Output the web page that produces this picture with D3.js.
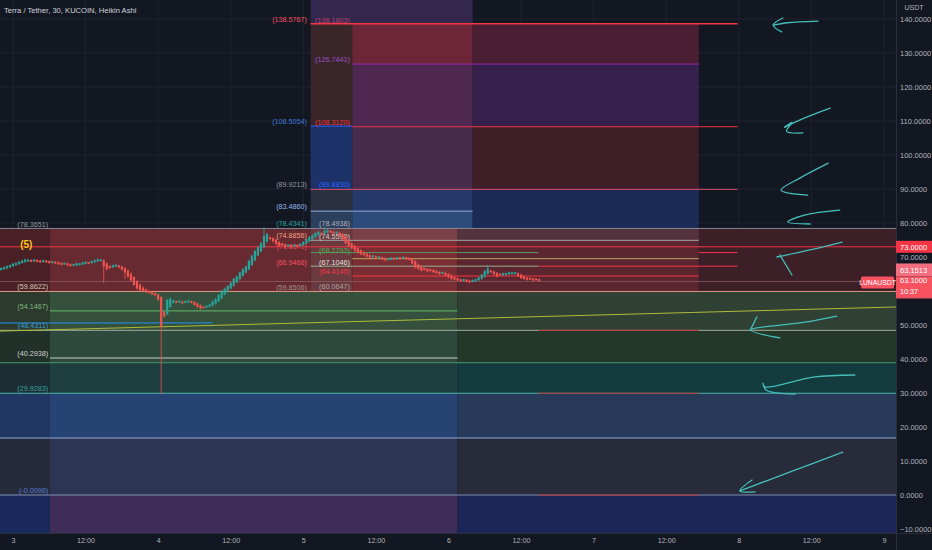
<!DOCTYPE html>
<html><head><meta charset="utf-8">
<script src="https://cdn.jsdelivr.net/npm/d3@7"></script>
<style>
html,body{margin:0;padding:0;background:#131722;}
svg{display:block;font-family:"Liberation Sans",Arial,sans-serif;}
</style></head>
<body><svg id="chart" width="932" height="550"></svg>
<script>
// ---------- data (hours are counted from day 3, 00:00) ----------
const title = "Terra / Tether, 30, KUCOIN, Heikin Ashi";
const BASE = new Date(2022, 2, 3, 0, 0, 0);
const H_LEFT = -2.15, H_RIGHT = 146.0;
const V_BOT = -11.176, V_TOP = 145.588;

const candleStartHour = -2;      // first candle, 30 min bars
const haFirstOpen = 66.3;
const haClose = [
 66.6,66.9, 67.3,67.6, 68.0,68.2, 68.6,68.9, 69.2,69.0, 68.8,69.1, 68.7,68.5, 68.9,68.6,
 68.3,68.5, 68.2,68.0, 67.8,68.1, 67.6,67.4, 67.7,68.0, 67.9,68.3, 68.5,68.2, 68.7,69.0,
 69.3,69.1, 67.2,66.4, 66.8,67.5, 67.6,67.0, 66.3,65.4, 64.2,63.1, 61.8,60.7, 60.2,59.9,
 59.6,59.4, 59.0,58.7, 57.4,49.5, 52.5,57.4, 57.8,57.2, 56.7,57.0, 56.4,56.9, 57.1,56.6,
 55.9,55.3, 54.8,55.1, 55.6,56.0, 56.9,57.6, 58.8,60.1, 60.7,61.5, 62.4,63.6, 64.3,65.5,
 66.4,67.2, 68.9,70.4, 71.8,72.9, 74.1,76.2, 76.8,75.4, 74.6,73.8, 73.2,73.6, 72.9,73.4,
 73.0,73.5, 73.1,73.8, 74.4,75.2, 75.9,76.4, 77.0,77.4, 76.8,77.6, 77.9,77.3, 76.9,77.2,
 76.3,75.1, 74.0,73.2, 72.5,71.9, 71.4,70.8, 70.6,70.1, 69.8,70.2, 69.6,69.9, 69.3,69.0,
 69.4,69.7, 69.5,69.8, 69.6,69.9, 69.5,69.3, 68.1,66.9, 66.5,66.0, 66.3,65.8, 66.1,65.6,
 65.3,65.0, 65.4,64.6, 64.1,63.6, 63.4,63.1, 62.9,63.3, 62.8,62.6, 63.1,63.4, 64.0,64.8,
 65.9,66.6, 65.7,64.9, 64.3,64.8, 65.1,65.0, 65.4,65.2, 65.3,64.4, 63.8,63.5, 63.3,63.6,
 63.2,63.4, 63.1
];
const wicks = [
  {h: 15.0, low: 62.6}, {h: 18.5, low: 63.8}, {h: 24.5, low: 30.0},
  {h: 41.5, high: 78.4}, {h: 51.5, high: 78.6}, {h: 78.5, high: 67.4}
];

const yTicks = [-10,0,10,20,30,40,50,60,70,80,90,100,110,120,130,140];
const xTickHours = [0,12,24,36,48,60,72,84,96,108,120,132,144];

// zone / drawing boundaries (hours)
const hA = 6.1, hB = 49.2, hC = 56.1, hD = 73.5, hE = 76.0, hF = 86.9, hG = 113.4, hH = 119.8;

// filled fib zones: [h0, h1, v0, v1, colour]
const zones = [
  [hB, hE, 138.58, V_TOP, "#33274d"],
  [hB, hC, 108.5, 138.58, "#3a2628"],
  [hB, hC, 89.92, 108.5, "#1d3268"],
  [hB, hC, 83.49, 89.92, "#2b3040"],
  [hB, hC, 78.43, 83.49, "#2c3f5c"],
  [hC, hE, 126.74, 138.58, "#6d2637"],
  [hC, hE, 108.31, 126.74, "#4e2850"],
  [hC, hE, 89.88, 108.31, "#462b4c"],
  [hC, hE, 83.49, 89.88, "#26396b"],
  [hC, hE, 78.49, 83.49, "#2d4c7c"],
  [hE, hG, 126.74, 138.58, "#4a1f33"],
  [hE, hG, 108.31, 126.74, "#35214b"],
  [hE, hG, 89.88, 108.31, "#3e1f28"],
  [hE, hG, 78.49, 89.88, "#1c2a58"],
  [H_LEFT, hA, 59.86, 78.37, "#4a2027"],
  [hA, hB, 59.86, 78.37, "#672a30"],
  [hB, hC, 59.86, 78.37, "#6b3a3f"],
  [hC, hD, 59.86, 78.37, "#7a2e34"],
  [hD, hG, 59.86, 78.37, "#5c2630"],
  [hG, H_RIGHT, 59.86, 78.37, "#3d1f27"],
  [hC, hD, 74.9, 78.37, "#7a4048"],
  [hD, hG, 74.9, 78.37, "#53323d"],
  [H_LEFT, hA, 48.43, 59.86, "#2c3a2e"], [hA, hD, 48.43, 59.86, "#35503c"], [hD, H_RIGHT, 48.43, 59.86, "#2f4034"],
  [H_LEFT, hA, 38.9, 48.43, "#22302a"], [hA, hD, 38.9, 48.43, "#2e4a3c"], [hD, H_RIGHT, 38.9, 48.43, "#24382a"],
  [H_LEFT, hA, 29.93, 38.9, "#1a2e33"], [hA, hD, 29.93, 38.9, "#1f3e40"], [hD, H_RIGHT, 29.93, 38.9, "#133a3c"],
  [H_LEFT, hA, 16.76, 29.93, "#1f3762"], [hA, hD, 16.76, 29.93, "#274373"], [hD, H_RIGHT, 16.76, 29.93, "#273a5a"],
  [H_LEFT, hA, 0, 16.76, "#262b3c"], [hA, hD, 0, 16.76, "#2c3553"], [hD, H_RIGHT, 0, 16.76, "#272b3a"],
  [H_LEFT, hA, V_BOT, 0, "#1a2a5c"], [hA, hD, V_BOT, 0, "#3e2d58"], [hD, H_RIGHT, V_BOT, 0, "#1b2557"]
];

// level lines: [h0, h1, value, colour, width]
const levelLines = [
  [hB, hH, 138.58, "#f23645", 1.5],
  [hC, hG, 126.74, "#9c27b0", 1],
  [hB, hC, 108.5, "#2962ff", 1],
  [hC, hH, 108.31, "#f23645", 1],
  [hB, hH, 89.9, "#e0506e", 1],
  [hB, hE, 83.49, "#8fb0e0", 1],
  [H_LEFT, H_RIGHT, 78.4, "#868993", 1],
  [hB, hG, 74.9, "#a8a0a8", 1],
  [H_LEFT, H_RIGHT, 73.0, "#f23645", 1],
  [hB, hF, 71.3, "#5a9a60", 1],
  [hG, hH, 71.3, "#f23645", 1],
  [hC, hG, 69.5, "#b8a860", 1],
  [hB, hF, 67.3, "#9ab090", 1],
  [hF, hH, 67.3, "#f23645", 1],
  [hC, hG, 64.4, "#f23645", 1],
  [H_LEFT, H_RIGHT, 62.8, "#8a5a60", 0.8],
  [H_LEFT, H_RIGHT, 59.86, "#e09a80", 1],
  [hA, hD, 54.15, "#66bb6a", 1],
  [H_LEFT, 33, 50.6, "#2196f3", 1],
  [H_LEFT, H_RIGHT, 48.43, "#a0b0a0", 1],
  [hF, hG, 48.43, "#c03030", 1],
  [hA, hD, 40.29, "#c8d0c8", 1],
  [H_LEFT, H_RIGHT, 38.9, "#4a9a70", 1],
  [H_LEFT, H_RIGHT, 29.93, "#4db6ac", 1.2],
  [hF, hG, 29.93, "#c03030", 1],
  [H_LEFT, H_RIGHT, 16.76, "#90a8d8", 1.2],
  [H_LEFT, H_RIGHT, 0, "#8090b0", 1],
  [hF, hG, 0, "#c03030", 1]
];
const trendLine = [[H_LEFT, 48.2], [H_RIGHT, 55.3]];

// fib labels: [anchorHour, value drawn at, text, colour]
const labelsA = [
  [5.8, 78.3651, "(78.3651)", "#9598a1"],
  [5.8, 59.8622, "(59.8622)", "#d8c8b0"],
  [5.8, 54.1467, "(54.1467)", "#7cb97c"],
  [5.8, 48.4311, "(48.4311)", "#3a9fd0"],
  [5.8, 40.2938, "(40.2938)", "#d0d4d0"],
  [5.8, 29.9283, "(29.9283)", "#3aa0a0"],
  [5.8, -0.0096, "(-0.0096)", "#5a7cd8"]
];
const labelsB = [
  [48.6, 138.5767, "(138.5767)", "#f7525f"],
  [48.6, 108.5054, "(108.5054)", "#3d7bd9"],
  [48.6, 89.9213, "(89.9213)", "#9598a1"],
  [48.6, 83.4860, "(83.4860)", "#90b8f0"],
  [48.6, 78.4341, "(78.4341)", "#26a69a"],
  [48.6, 74.8856, "(74.8856)", "#f0a080"],
  [48.6, 71.6371, "(71.6371)", "#e04050"],
  [48.6, 66.9468, "(66.9468)", "#f05060"],
  [48.6, 59.8506, "(59.8506)", "#a09090"]
];
const labelsC = [
  [55.7, 138.1803, "(138.1803)", "#c04070"],
  [55.7, 126.7441, "(126.7441)", "#9c4dcc"],
  [55.7, 108.3120, "(108.3120)", "#f23645"],
  [55.7, 89.8830, "(89.8830)", "#2962ff"],
  [55.7, 78.4938, "(78.4938)", "#b0b4bc"],
  [55.7, 74.5590, "(74.5590)", "#d0d0d0"],
  [55.7, 70.6, "(68.2793)", "#4caf50"],
  [55.7, 67.1046, "(67.1046)", "#e0e0e0"],
  [55.7, 64.4145, "(64.4145)", "#f23645"],
  [55.7, 60.0647, "(60.0647)", "#a8a0a0"]
];
const waveLabel = [ [2.2, 72.6, "(5)"] ];

// hand-drawn arrows: polylines of [hour, value]
const arrows = [
  [[133.1,139.4],[128,138.9],[125.7,138.2]],
  [[127.3,140.3],[125.7,138.2],[127.1,136.2]],
  [[135.1,113.8],[130.9,110.9],[127.6,108.2]],
  [[127.6,108.2],[128.8,109.6],[127.9,107.0],[130.6,106.5]],
  [[134.8,97.6],[130.1,93.2],[127.0,89.7],[131.4,88.2]],
  [[136.7,83.8],[131.0,82.4],[128.1,80.3],[131.8,79.7]],
  [[137.1,74.4],[131.8,72.1],[126.3,70.0]],
  [[126.8,70.6],[128.8,64.7]],
  [[136.2,52.6],[131.3,50.9],[121.9,48.5],[126.8,46.2]],
  [[121.9,48.5],[123.0,52.4]],
  [[139.2,35.3],[132.3,34.7],[124.3,31.8],[124.0,32.9],[124.5,30.9],[129.3,29.7]],
  [[137.2,12.6],[128.5,6.8],[120.2,1.2]],
  [[122.2,4.4],[120.2,1.2],[122.7,0.9]]
];

const lastPrice = 63.1000, markPrice = 63.1513, levelPrice = 73.0000, countdown = "10:37", symbol = "LUNAUSDT";

// ---------- drawing ----------
const W = 932, H = 550, PW = 896, PH = 533;
const T = h => new Date(BASE.getTime() + h * 3600e3);
const x = d3.scaleTime().domain([T(H_LEFT), T(H_RIGHT)]).range([0, PW]);
const y = d3.scaleLinear().domain([V_BOT, V_TOP]).range([PH, 0]);
const svg = d3.select("#chart");
svg.append("rect").attr("width", W).attr("height", H).attr("fill", "#131722");

const plot = svg.append("g");
plot.append("clipPath").attr("id", "clip").append("rect").attr("width", PW).attr("height", PH);
const g = plot.append("g").attr("clip-path", "url(#clip)");

// grid
g.selectAll(".vg").data(xTickHours).enter().append("line")
  .attr("x1", d => x(T(d))).attr("x2", d => x(T(d))).attr("y1", 0).attr("y2", PH)
  .attr("stroke", "#1f2330").attr("stroke-width", 1);
g.selectAll(".hg").data(yTicks).enter().append("line")
  .attr("x1", 0).attr("x2", PW).attr("y1", d => y(d)).attr("y2", d => y(d))
  .attr("stroke", "#1f2330").attr("stroke-width", 1);

// zones
g.selectAll(".zone").data(zones).enter().append("rect")
  .attr("x", d => x(T(d[0]))).attr("width", d => x(T(d[1])) - x(T(d[0])))
  .attr("y", d => y(d[3])).attr("height", d => y(d[2]) - y(d[3]))
  .attr("fill", d => d[4]);

// level lines
g.selectAll(".lvl").data(levelLines).enter().append("line")
  .attr("x1", d => x(T(d[0]))).attr("x2", d => x(T(d[1])))
  .attr("y1", d => y(d[2])).attr("y2", d => y(d[2]))
  .attr("stroke", d => d[3]).attr("stroke-width", d => d[4]);

g.append("line")
  .attr("x1", x(T(trendLine[0][0]))).attr("y1", y(trendLine[0][1]))
  .attr("x2", x(T(trendLine[1][0]))).attr("y2", y(trendLine[1][1]))
  .attr("stroke", "#aebb3a").attr("stroke-width", 1);

// labels
function drawLabels(arr, size) {
  g.selectAll(null).data(arr).enter().append("text")
    .attr("x", d => x(T(d[0]))).attr("y", d => y(d[1]) - 2)
    .attr("text-anchor", "end").attr("font-size", size)
    .attr("fill", d => d[3]).text(d => d[2]);
}
drawLabels(labelsA, 7.2);
drawLabels(labelsB, 7.2);
drawLabels(labelsC, 7.2);
g.selectAll(null).data(waveLabel).enter().append("text")
  .attr("x", d => x(T(d[0]))).attr("y", d => y(d[1]))
  .attr("text-anchor", "middle").attr("font-size", 10).attr("font-weight", "bold")
  .attr("fill", "#f5c518").text(d => d[2]);

// Heikin Ashi candles
let prevO = haFirstOpen, prevC = null;
const candles = haClose.map((c, i) => {
  const h = candleStartHour + i * 0.5;
  const o = i === 0 ? haFirstOpen : (prevO + prevC) / 2;
  let hi = Math.max(o, c), lo = Math.min(o, c);
  const w = wicks.find(k => Math.abs(k.h - h) < 0.01);
  if (w) { if (w.high) hi = Math.max(hi, w.high); if (w.low) lo = Math.min(lo, w.low); }
  prevO = o; prevC = c;
  return {h, o, c, hi, lo};
});
const cg = g.append("g");
cg.selectAll(".wick").data(candles).enter().append("line")
  .attr("x1", d => x(T(d.h))).attr("x2", d => x(T(d.h)))
  .attr("y1", d => y(d.hi) - 1).attr("y2", d => y(d.lo) + 1)
  .attr("stroke", d => d.c >= d.o ? "#26a69a" : "#ef5350").attr("stroke-width", 0.8);
cg.selectAll(".body").data(candles).enter().append("rect")
  .attr("x", d => x(T(d.h)) - 1.1).attr("width", 2.2)
  .attr("y", d => Math.min(y(Math.max(d.o, d.c)), (y(d.o) + y(d.c)) / 2 - 1))
  .attr("height", d => Math.max(2, Math.abs(y(d.o) - y(d.c))))
  .attr("fill", d => d.c >= d.o ? "#26a69a" : "#ef5350");

// arrows
const lineGen = d3.line().x(d => x(T(d[0]))).y(d => y(d[1])).curve(d3.curveCatmullRom);
g.selectAll(".arrow").data(arrows).enter().append("path")
  .attr("d", lineGen).attr("fill", "none")
  .attr("stroke", "#45bdb8").attr("stroke-width", 1.3).attr("stroke-linecap", "round");

// axes frame
svg.append("line").attr("x1", PW + 0.5).attr("x2", PW + 0.5).attr("y1", 0).attr("y2", H).attr("stroke", "#2a2e39");
svg.append("line").attr("x1", 0).attr("x2", W).attr("y1", PH + 0.5).attr("y2", PH + 0.5).attr("stroke", "#2a2e39");

const yL = y(lastPrice), y73 = y(levelPrice);
// tick labels that sit under the price tags are hidden, as the platform does
const tagBands = [[y73 - 6, y73 + 6], [yL - 17, yL + 18]];
const visibleTicks = yTicks.filter(v => !tagBands.some(b => y(v) > b[0] - 3 && y(v) < b[1] + 3));

const yAxis = d3.axisRight(y).tickValues(visibleTicks).tickSize(0).tickPadding(4).tickFormat(d3.format(".4f"));
const ya = svg.append("g").attr("transform", `translate(${PW},0)`).call(yAxis);
ya.select(".domain").remove();
ya.selectAll("text").attr("fill", "#b2b5be").attr("font-size", 7.5).attr("font-family", "Liberation Sans, Arial, sans-serif");

const xAxis = d3.axisBottom(x).tickValues(xTickHours.map(T)).tickSize(0).tickPadding(5)
  .tickFormat(d => d.getHours() === 0 ? String(d.getDate()) : "12:00");
const xa = svg.append("g").attr("transform", `translate(0,${PH})`).call(xAxis);
xa.select(".domain").remove();
xa.selectAll("text").attr("fill", "#b2b5be").attr("font-size", 7.2).attr("font-family", "Liberation Sans, Arial, sans-serif");

svg.append("text").attr("x", 914).attr("y", 10).attr("text-anchor", "middle")
  .attr("font-size", 7).attr("fill", "#b2b5be").text("USDT");

// price tags
const fmt = d3.format(".4f");
function tag(top, hgt, fill) {
  svg.append("rect").attr("x", PW).attr("y", top).attr("width", W - PW).attr("height", hgt).attr("fill", fill);
}
tag(y73 - 6, 12, "#f23645");
svg.append("text").attr("x", 900).attr("y", y73 + 2.7).attr("font-size", 7.5).attr("fill", "#fff").text(fmt(levelPrice));
tag(yL - 17, 13, "#f26d7d");
svg.append("text").attr("x", 900).attr("y", yL - 7.8).attr("font-size", 7.5).attr("fill", "#fff").text(fmt(markPrice));
tag(yL - 4, 22, "#f7525f");
svg.append("text").attr("x", 900).attr("y", yL + 2.8).attr("font-size", 7.5).attr("fill", "#fff").text(fmt(lastPrice));
svg.append("text").attr("x", 900).attr("y", yL + 13.5).attr("font-size", 7.2).attr("fill", "#fff").text(countdown);
svg.append("rect").attr("x", 861).attr("y", yL - 4).attr("width", 33).attr("height", 12).attr("rx", 1.5).attr("fill", "#f7525f");
svg.append("text").attr("x", 877.5).attr("y", yL + 4.5).attr("text-anchor", "middle").attr("font-size", 6.8).attr("fill", "#fff").text(symbol);

// title
svg.append("text").attr("x", 4).attr("y", 13).attr("font-size", 7.6).attr("fill", "#d1d4dc").text(title);
</script>
</body></html>
